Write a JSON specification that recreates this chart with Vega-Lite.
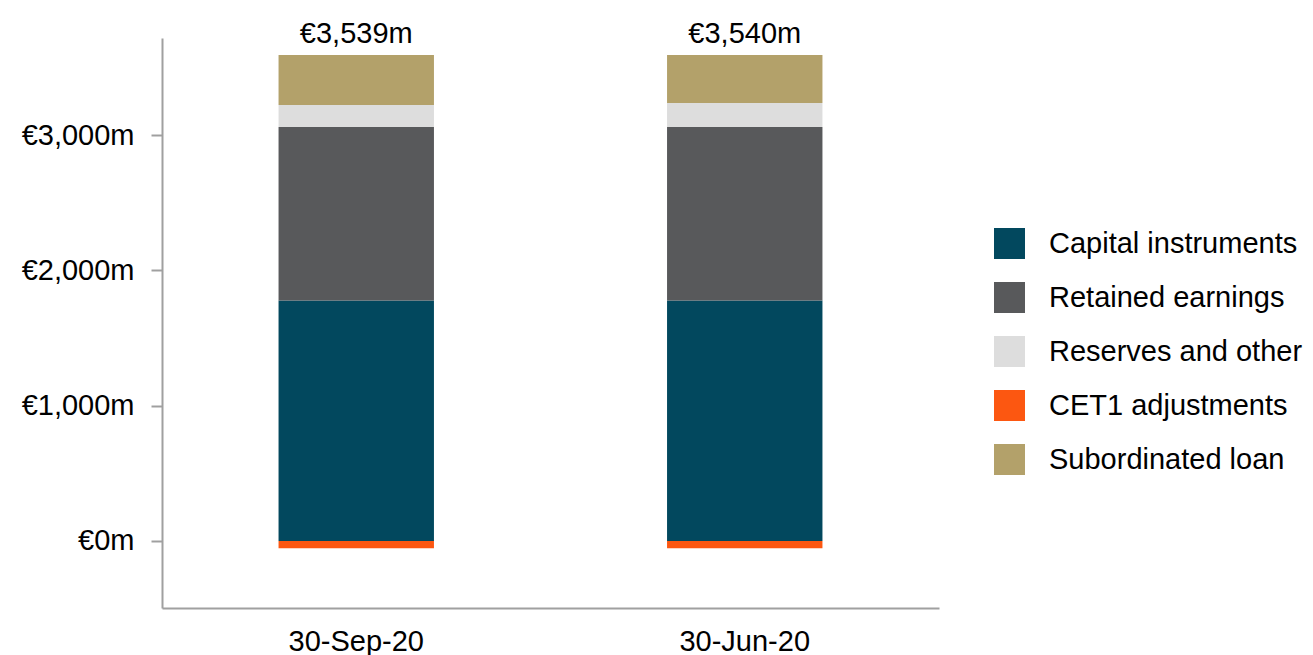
{
  "$schema": "https://vega.github.io/schema/vega-lite/v6.json",
  "autosize": "none",
  "width": 777,
  "height": 570,
  "padding": {"left": 162, "top": 38, "right": 374, "bottom": 47},
  "background": "white",
  "config": {
    "font": "Liberation Sans",
    "view": {"stroke": null}
  },
  "data": {
    "values": [
      {"date": "30-Sep-20", "component": "Capital instruments", "order": 1, "value": 1777},
      {"date": "30-Sep-20", "component": "Retained earnings", "order": 2, "value": 1283},
      {"date": "30-Sep-20", "component": "Reserves and other", "order": 3, "value": 163},
      {"date": "30-Sep-20", "component": "CET1 adjustments", "order": 0, "value": -54},
      {"date": "30-Sep-20", "component": "Subordinated loan", "order": 4, "value": 370},
      {"date": "30-Jun-20", "component": "Capital instruments", "order": 1, "value": 1777},
      {"date": "30-Jun-20", "component": "Retained earnings", "order": 2, "value": 1283},
      {"date": "30-Jun-20", "component": "Reserves and other", "order": 3, "value": 179},
      {"date": "30-Jun-20", "component": "CET1 adjustments", "order": 0, "value": -54},
      {"date": "30-Jun-20", "component": "Subordinated loan", "order": 4, "value": 355}
    ]
  },
  "encoding": {
    "x": {
      "field": "date",
      "type": "nominal",
      "sort": ["30-Sep-20", "30-Jun-20"],
      "scale": {"paddingInner": 0.6, "paddingOuter": 0.3},
      "axis": {
        "title": null,
        "labelAngle": 0,
        "labelFontSize": 29,
        "labelColor": "#000000",
        "labelPadding": 19,
        "ticks": false,
        "domainColor": "#a0a0a0",
        "domainWidth": 2
      }
    }
  },
  "layer": [
    {
      "mark": {"type": "bar"},
      "encoding": {
        "y": {
          "field": "value",
          "type": "quantitative",
          "stack": "zero",
          "scale": {"domain": [-496, 3719], "nice": false, "zero": false},
          "axis": {
            "title": null,
            "values": [0, 1000, 2000, 3000],
            "labelExpr": "'€' + format(datum.value, ',') + 'm'",
            "labelFontSize": 29,
            "labelColor": "#000000",
            "labelPadding": 17,
            "grid": false,
            "tickSize": 11,
            "tickColor": "#a0a0a0",
            "tickWidth": 2,
            "domainColor": "#a0a0a0",
            "domainWidth": 2
          }
        },
        "color": {
          "field": "component",
          "type": "nominal",
          "scale": {
            "domain": ["Capital instruments", "Retained earnings", "Reserves and other", "CET1 adjustments", "Subordinated loan"],
            "range": ["#02485e", "#58595b", "#dddddd", "#fc5711", "#b3a16a"]
          },
          "legend": {
            "title": null,
            "orient": "none",
            "legendX": 832,
            "legendY": 190,
            "symbolType": "square",
            "symbolSize": 961,
            "symbolStrokeWidth": 0,
            "labelFontSize": 29,
            "labelColor": "#000000",
            "labelOffset": 24,
            "rowPadding": 23,
            "padding": 0,
            "labelLimit": 400
          }
        },
        "order": {"field": "order", "type": "quantitative"}
      }
    },
    {
      "transform": [
        {"calculate": "max(datum.value, 0)", "as": "pos"},
        {"aggregate": [{"op": "sum", "field": "value", "as": "total"}, {"op": "sum", "field": "pos", "as": "top"}], "groupby": ["date"]},
        {"calculate": "'€' + format(datum.total, ',') + 'm'", "as": "label"}
      ],
      "mark": {"type": "text", "fontSize": 29, "color": "#000000", "baseline": "alphabetic", "dy": -12},
      "encoding": {
        "y": {"field": "top", "type": "quantitative"},
        "text": {"field": "label"}
      }
    }
  ]
}
